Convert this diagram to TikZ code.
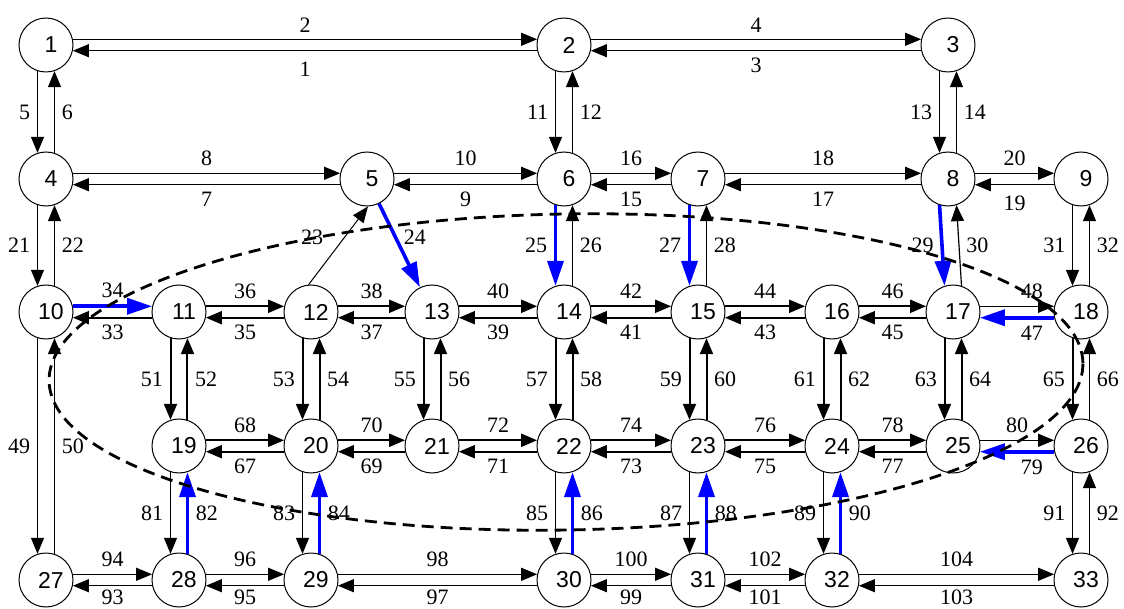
\documentclass[tikz,border=0pt]{standalone}
\usepackage{fontspec}
\setmainfont{Liberation Serif}
\newfontfamily\vertexfont{Liberation Sans}
\usetikzlibrary{arrows.meta}

\begin{document}
\begin{tikzpicture}[x=0.5pt, y=-0.5pt, font=\fontsize{11}{13}\selectfont]

		\tikzstyle{vertex} = [circle, minimum size=27pt, draw, line width=0.5pt, inner sep=0pt, fill=white, execute at begin node={\kern5pt}, font=\vertexfont\fontsize{11.5}{13}\selectfont]
		\tikzstyle{flow}   = [draw, line width=1pt, -{Triangle[length=8pt, width=6.5pt]}]
		\tikzstyle{lightflow} = [draw, line width=0.6pt, -{Triangle[length=8pt, width=6.5pt]}]
		\tikzstyle{hot}    = [draw=blue, line width=1.8pt, -{Triangle[length=12.5pt, width=8pt]}]

		\useasboundingbox (0, 0) rectangle (1124, 609);

		%%Vertices, row by row
		\node [vertex](n1) at (46, 45) {1};
		\node [vertex](n2) at (564, 45) {2};
		\node [vertex](n3) at (948, 45) {3};

		\node [vertex](n4) at (46, 179) {4};
		\node [vertex](n5) at (367, 179) {5};
		\node [vertex](n6) at (564, 179) {6};
		\node [vertex](n7) at (698, 179) {7};
		\node [vertex](n8) at (948, 179) {8};
		\node [vertex](n9) at (1081, 179) {9};

		\node [vertex](n10) at (46, 312) {10};
		\node [vertex](n11) at (179, 312) {11};
		\node [vertex](n12) at (311, 312) {12};
		\node [vertex](n13) at (432, 312) {13};
		\node [vertex](n14) at (564, 312) {14};
		\node [vertex](n15) at (698, 312) {15};
		\node [vertex](n16) at (832, 312) {16};
		\node [vertex](n17) at (953, 312) {17};
		\node [vertex](n18) at (1081, 312) {18};

		\node [vertex](n19) at (179, 446) {19};
		\node [vertex](n20) at (311, 446) {20};
		\node [vertex](n21) at (432, 446) {21};
		\node [vertex](n22) at (564, 446) {22};
		\node [vertex](n23) at (698, 446) {23};
		\node [vertex](n24) at (832, 446) {24};
		\node [vertex](n25) at (953, 446) {25};
		\node [vertex](n26) at (1081, 446) {26};

		\node [vertex](n27) at (46, 580) {27};
		\node [vertex](n28) at (179, 580) {28};
		\node [vertex](n29) at (311, 580) {29};
		\node [vertex](n30) at (564, 580) {30};
		\node [vertex](n31) at (698, 580) {31};
		\node [vertex](n32) at (832, 580) {32};
		\node [vertex](n33) at (1081, 580) {33};

		%%Row 1
		\draw [lightflow] (n1.12) -- node[above]{2} (n2.168);
		\draw [lightflow] (n2.192) -- node[below=2pt]{1} (n1.-12);
		\draw [lightflow] (n2.12) -- node[above]{4} (n3.168);
		\draw [lightflow] (n3.192) -- node[below]{3} (n2.-12);
		%%Row 1 to row 2
		\draw [lightflow] (n1.252) -- node[left]{5} (n4.108);
		\draw [lightflow] (n4.72) -- node[right]{6} (n1.288);
		\draw [lightflow] (n2.252) -- node[left]{11} (n6.108);
		\draw [lightflow] (n6.72) -- node[right]{12} (n2.288);
		\draw [lightflow] (n3.252) -- node[left]{13} (n8.108);
		\draw [lightflow] (n8.72) -- node[right]{14} (n3.288);

		%%Row 2
		\draw [lightflow] (n4.12) -- node[above]{8} (n5.168);
		\draw [lightflow] (n5.192) -- node[below]{7} (n4.-12);
		\draw [lightflow] (n5.12) -- node[above]{10} (n6.168);
		\draw [lightflow] (n6.192) -- node[below]{9} (n5.-12);
		\draw [lightflow] (n6.12) -- node[above]{16} (n7.168);
		\draw [lightflow] (n7.192) -- node[below]{15} (n6.-12);
		\draw [lightflow] (n7.12) -- node[above]{18} (n8.168);
		\draw [lightflow] (n8.192) -- node[below]{17} (n7.-12);
		\draw [lightflow] (n8.12) -- node[above]{20} (n9.168);
		\draw [lightflow] (n9.192) -- node[below=2pt]{19} (n8.-12);
		%%Row 2 to row 3
		\draw [lightflow] (n4.252) -- node[left]{21} (n10.108);
		\draw [lightflow] (n10.72) -- node[right]{22} (n4.288);
		\draw [draw, line width=0.5pt, -{Triangle[length=8pt, width=6.5pt]}] (n12.95) -- node[pos=0.6, left=7pt]{23} (n5.-88);
		\draw [hot] (n5) -- node[pos=0.4, right]{24} (n13);
		\draw [hot] (n6.252) -- node[left]{25} (n14.108);
		\draw [lightflow] (n14.72) -- node[right]{26} (n6.288);
		\draw [hot] (n7.252) -- node[left]{27} (n15.108);
		\draw [lightflow] (n15.72) -- node[right]{28} (n7.288);
		\draw [hot] (n8.252) -- node[left]{29} (n17.108);
		\draw [lightflow] (n17.72) -- node[right]{30} (n8.288);
		\draw [lightflow] (n9.252) -- node[left]{31} (n18.108);
		\draw [lightflow] (n18.72) -- node[right]{32} (n9.288);

		%%Row 3
		\draw [hot] (n10.12) -- node[above]{34} (n11.168);
		\draw [flow] (n11.192) -- node[below]{33} (n10.-12);
		\draw [flow] (n11.12) -- node[above]{36} (n12.168);
		\draw [flow] (n12.192) -- node[below]{35} (n11.-12);
		\draw [flow] (n12.12) -- node[above]{38} (n13.168);
		\draw [flow] (n13.192) -- node[below]{37} (n12.-12);
		\draw [flow] (n13.12) -- node[above]{40} (n14.168);
		\draw [flow] (n14.192) -- node[below]{39} (n13.-12);
		\draw [flow] (n14.12) -- node[above]{42} (n15.168);
		\draw [flow] (n15.192) -- node[below]{41} (n14.-12);
		\draw [flow] (n15.12) -- node[above]{44} (n16.168);
		\draw [flow] (n16.192) -- node[below]{43} (n15.-12);
		\draw [flow] (n16.12) -- node[above]{46} (n17.168);
		\draw [flow] (n17.192) -- node[below]{45} (n16.-12);
		\draw [lightflow] (n17.12) -- node[pos=0.7, above]{48} (n18.168);
		\draw [hot] (n18.192) -- node[pos=0.3, below]{47} (n17.-12);
		%%Row 3 down
		\draw [lightflow] (n10.252) -- node[left]{49} (n27.108);
		\draw [lightflow] (n27.72) -- node[right]{50} (n10.288);
		\draw [flow] (n11.252) -- node[left]{51} (n19.108);
		\draw [flow] (n19.72) -- node[right]{52} (n11.288);
		\draw [flow] (n12.252) -- node[left]{53} (n20.108);
		\draw [flow] (n20.72) -- node[right]{54} (n12.288);
		\draw [flow] (n13.252) -- node[left]{55} (n21.108);
		\draw [flow] (n21.72) -- node[right]{56} (n13.288);
		\draw [flow] (n14.252) -- node[left]{57} (n22.108);
		\draw [flow] (n22.72) -- node[right]{58} (n14.288);
		\draw [flow] (n15.252) -- node[left]{59} (n23.108);
		\draw [flow] (n23.72) -- node[right]{60} (n15.288);
		\draw [flow] (n16.252) -- node[left]{61} (n24.108);
		\draw [flow] (n24.72) -- node[right]{62} (n16.288);
		\draw [flow] (n17.252) -- node[left]{63} (n25.108);
		\draw [flow] (n25.72) -- node[right]{64} (n17.288);
		\draw [flow] (n18.252) -- node[left]{65} (n26.108);
		\draw [lightflow] (n26.72) -- node[right]{66} (n18.288);

		%%Row 4
		\draw [flow] (n19.12) -- node[above]{68} (n20.168);
		\draw [flow] (n20.192) -- node[below]{67} (n19.-12);
		\draw [flow] (n20.12) -- node[above]{70} (n21.168);
		\draw [flow] (n21.192) -- node[below]{69} (n20.-12);
		\draw [flow] (n21.12) -- node[above]{72} (n22.168);
		\draw [flow] (n22.192) -- node[below]{71} (n21.-12);
		\draw [flow] (n22.12) -- node[above]{74} (n23.168);
		\draw [flow] (n23.192) -- node[below]{73} (n22.-12);
		\draw [flow] (n23.12) -- node[above]{76} (n24.168);
		\draw [flow] (n24.192) -- node[below]{75} (n23.-12);
		\draw [flow] (n24.12) -- node[above]{78} (n25.168);
		\draw [flow] (n25.192) -- node[below]{77} (n24.-12);
		\draw [lightflow] (n25.12) -- node[above]{80} (n26.168);
		\draw [hot] (n26.192) -- node[pos=0.3, below]{79} (n25.-12);
		%%Row 4 down
		\draw [lightflow] (n19.252) -- node[left]{81} (n28.108);
		\draw [hot] (n28.72) -- node[right]{82} (n19.288);
		\draw [lightflow] (n20.252) -- node[left]{83} (n29.108);
		\draw [hot] (n29.72) -- node[right]{84} (n20.288);
		\draw [lightflow] (n22.252) -- node[left]{85} (n30.108);
		\draw [hot] (n30.72) -- node[right]{86} (n22.288);
		\draw [lightflow] (n23.252) -- node[left]{87} (n31.108);
		\draw [hot] (n31.72) -- node[right]{88} (n23.288);
		\draw [lightflow] (n24.252) -- node[left]{89} (n32.108);
		\draw [hot] (n32.72) -- node[right]{90} (n24.288);
		\draw [lightflow] (n26.252) -- node[left]{91} (n33.108);
		\draw [lightflow] (n33.72) -- node[right]{92} (n26.288);

		%%Row 5
		\draw [lightflow] (n27.12) -- node[above]{94} (n28.168);
		\draw [lightflow] (n28.192) -- node[below=-1.5pt]{93} (n27.-12);
		\draw [lightflow] (n28.12) -- node[above]{96} (n29.168);
		\draw [lightflow] (n29.192) -- node[below=-1.5pt]{95} (n28.-12);
		\draw [lightflow] (n29.12) -- node[above]{98} (n30.168);
		\draw [lightflow] (n30.192) -- node[below=-1.5pt]{97} (n29.-12);
		\draw [lightflow] (n30.12) -- node[above]{100} (n31.168);
		\draw [lightflow] (n31.192) -- node[below=-1.5pt]{99} (n30.-12);
		\draw [lightflow] (n31.12) -- node[above]{102} (n32.168);
		\draw [lightflow] (n32.192) -- node[below=-1.5pt]{101} (n31.-12);
		\draw [lightflow] (n32.12) -- node[above]{104} (n33.168);
		\draw [lightflow] (n33.192) -- node[below=-1.5pt]{103} (n32.-12);

		%%Dashed boundary
		\draw [dash pattern=on 6pt off 3.5pt, line width=1.4pt, rotate around={1:(566, 372)}] (566, 372) ellipse [x radius=258.5pt, y radius=79pt];

	\end{tikzpicture}
\end{document}
